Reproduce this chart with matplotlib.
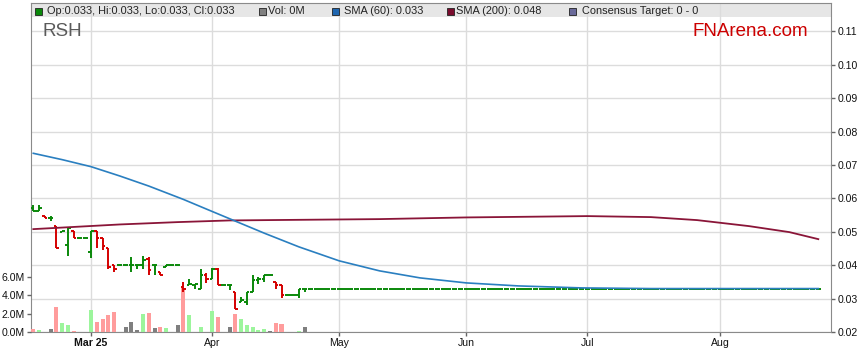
# RSH price chart, FNArena style: OHLC bars + volume + SMA(60) / SMA(200)
import numpy as np
import pandas as pd
import matplotlib
matplotlib.use('Agg')
import matplotlib.pyplot as plt
from matplotlib.patches import Rectangle

plt.rcParams['font.family'] = ['Liberation Sans', 'DejaVu Sans']

# daily bars from 17 Feb 2025 (weekdays), last traded bar 23 Apr
opens = [0.0570, 0.0562, 0.0548, 0.0540, 0.0518, 0.0498, 0.0460, 0.0502, 0.0480, 0.0480,
         0.0440, 0.0502, 0.0480, 0.0450, 0.0400, 0.0400, 0.0400, 0.0400, 0.0400, 0.0400,
         0.0420, 0.0400, 0.0380, 0.0395, 0.0400, 0.0400, 0.0335, 0.0340, 0.0340, 0.0330,
         0.0370, 0.0360, 0.0390, 0.0340, 0.0340, 0.0320, 0.0290, 0.0290, 0.0320, 0.0355,
         0.0360, 0.0370, 0.0350, 0.0340, 0.0310, 0.0310, 0.0310, 0.0330]
highs = [0.0580, 0.0580, 0.0548, 0.0548, 0.0518, 0.0502, 0.0510, 0.0502, 0.0480, 0.0480,
         0.0502, 0.0502, 0.0480, 0.0450, 0.0400, 0.0400, 0.0400, 0.0424, 0.0400, 0.0428,
         0.0425, 0.0400, 0.0380, 0.0400, 0.0400, 0.0400, 0.0350, 0.0360, 0.0345, 0.0390,
         0.0377, 0.0392, 0.0393, 0.0340, 0.0340, 0.0320, 0.0305, 0.0320, 0.0370, 0.0366,
         0.0370, 0.0370, 0.0350, 0.0340, 0.0310, 0.0310, 0.0330, 0.0330]
lows = [0.0562, 0.0562, 0.0540, 0.0532, 0.0451, 0.0498, 0.0428, 0.0480, 0.0480, 0.0480,
        0.0421, 0.0450, 0.0445, 0.0390, 0.0380, 0.0400, 0.0400, 0.0379, 0.0390, 0.0390,
        0.0370, 0.0370, 0.0370, 0.0395, 0.0400, 0.0400, 0.0320, 0.0340, 0.0330, 0.0330,
        0.0347, 0.0360, 0.0340, 0.0340, 0.0326, 0.0269, 0.0290, 0.0280, 0.0320, 0.0343,
        0.0350, 0.0370, 0.0330, 0.0303, 0.0310, 0.0310, 0.0303, 0.0320]
closes = [0.0562, 0.0570, 0.0540, 0.0540, 0.0451, 0.0502, 0.0510, 0.0480, 0.0480, 0.0480,
          0.0502, 0.0480, 0.0458, 0.0395, 0.0390, 0.0400, 0.0400, 0.0400, 0.0400, 0.0415,
          0.0385, 0.0400, 0.0370, 0.0400, 0.0400, 0.0400, 0.0330, 0.0345, 0.0345, 0.0370,
          0.0360, 0.0390, 0.0340, 0.0340, 0.0340, 0.0270, 0.0295, 0.0320, 0.0355, 0.0360,
          0.0370, 0.0370, 0.0340, 0.0310, 0.0310, 0.0310, 0.0330, 0.0330]
volumes_m = [0.33, 0.22, 0.0, 0.33, 2.7, 1.0, 0.76, 0.15, 0.0, 0.0,
             2.4, 1.1, 1.4, 1.85, 2.2, 0.0, 0.55, 1.1, 0.25, 1.95,
             2.1, 0.45, 0.55, 0.45, 0.0, 0.75, 4.8, 1.85, 0.0, 0.55,
             0.0, 2.3, 1.6, 0.0, 0.55, 2.0, 1.4, 0.75, 0.6, 0.25,
             0.3, 0.15, 1.0, 0.9, 0.0, 0.0, 0.1, 0.55]

# projected days after last trade: price held at last close, no volume
last_price = 0.033
n_projected = 89

# moving averages (bar index -> value)
sma60_idx = [0, 5, 10, 15, 20, 26, 30, 35, 40, 46, 53, 60, 67, 75, 84, 95, 107, 136]
sma60_val = [0.0735, 0.0716, 0.0695, 0.0667, 0.0637, 0.0597, 0.0568, 0.0532, 0.0496,
             0.0455, 0.0413, 0.0383, 0.0362, 0.0347, 0.0338, 0.0332, 0.0330, 0.0330]
sma200_idx = [0, 15, 25, 34, 60, 75, 96, 107, 115, 124, 131, 136]
sma200_val = [0.0508, 0.0522, 0.0529, 0.0534, 0.0538, 0.0543, 0.0547, 0.0544, 0.0535,
              0.0517, 0.0499, 0.0478]

month_labels = ['Mar 25', 'Apr', 'May', 'Jun', 'Jul', 'Aug']
month_nums = [3, 4, 5, 6, 7, 8]
price_ticks = [0.02, 0.03, 0.04, 0.05, 0.06, 0.07, 0.08, 0.09, 0.10, 0.11]
vol_ticks = [0, 2, 4, 6]

o = np.array(opens + [last_price] * n_projected)
h = np.array(highs + [last_price] * n_projected)
l = np.array(lows + [last_price] * n_projected)
c = np.array(closes + [last_price] * n_projected)
v = np.array(volumes_m)
dates = pd.bdate_range('2025-02-17', periods=len(o))
x = np.arange(len(o))

GREEN, RED = '#0a880a', '#d40000'
prev_c = np.concatenate([[c[0]], c[:-1]])
bar_col = np.where(c >= prev_c, GREEN, RED)
xv = np.arange(len(v))
cv = c[:len(v)]
ov = o[:len(v)]
vol_col = np.where(cv > ov, '#9cf59c', np.where(cv < ov, '#ff9c9c', '#7f7f7f'))

W, H = 859, 363
fig = plt.figure(figsize=(W / 100, H / 100), dpi=100)
rect = [31 / W, 31 / H, 800 / W, 329 / H]
xlim = (-0.4, 138.2)
ylim = (0.02, 0.1185)

# base axes: grid, legend band, price labels
ax = fig.add_axes(rect)
ax_v = ax.twinx()
ax_p = ax.twinx()

ax.set_xlim(xlim)
ax.set_ylim(ylim)
ax.set_axisbelow(True)
ax.grid(True, color='#dcdcdc', lw=1.0)
ax.set_yticks(price_ticks)
ax.set_yticklabels(['%.2f' % t for t in price_ticks])
ax.tick_params(axis='y', left=False, labelleft=False, right=True, labelright=True)
ticks_x = [int(np.argmax(dates.month == m)) for m in month_nums]
ax.set_xticks(ticks_x)
ax.set_xticklabels(month_labels)
ax.get_xticklabels()[0].set_fontweight('bold')
ax.tick_params(axis='both', labelsize=7.6, colors='#666666', labelcolor='#111111',
               length=3, width=1, pad=1.5)
for s in ax.spines.values():
    s.set_color('#8a8a8a')
ax.add_patch(Rectangle((0, (332 - 16.7) / 329), 1, 1, transform=ax.transAxes,
                       facecolor='#e6e6e6', edgecolor='none', zorder=0))

# volume
ax_v.set_ylim(0, 35.9)
ax_v.set_xlim(xlim)
ax_v.bar(xv, v, width=0.7, color=vol_col, linewidth=0)
ax_v.set_yticks(vol_ticks)
ax_v.set_yticklabels(['%.1fM' % t for t in vol_ticks])
ax_v.tick_params(axis='y', left=True, labelleft=True, right=False, labelright=False,
                 labelsize=7.6, colors='#666666', labelcolor='#111111',
                 length=3, width=1, pad=1.5)
for s in ax_v.spines.values():
    s.set_visible(False)

# price bars and moving averages on top
ax_p.set_xlim(xlim)
ax_p.set_ylim(ylim)
ax_p.set_axis_off()
ax_p.vlines(x, l, h, colors=bar_col, lw=1.4)
ax_p.hlines(o, x - 0.45, x, colors=bar_col, lw=1.4)
ax_p.hlines(c, x, x + 0.45, colors=bar_col, lw=1.4)
ax_p.plot(sma200_idx, sma200_val, color='#8a1538', lw=1.3)
ax_p.plot(sma60_idx, sma60_val, color='#2a7fc0', lw=1.2)

# legend strip
items = [(35, GREEN, 47, 'Op:0.033, Hi:0.033, Lo:0.033, Cl:0.033'),
         (259, '#808080', 268.5, 'Vol: 0M'),
         (332, '#1f66b0', 344.5, 'SMA (60): 0.033'),
         (447, '#7a0c2e', 456, 'SMA (200): 0.048'),
         (569, '#6a6a9a', 582.5, 'Consensus Target: 0 - 0')]
for sx, col, tx, label in items:
    fig.add_artist(Rectangle((sx / W, 1 - 14.5 / H), 7 / W, 7 / H, transform=fig.transFigure,
                             facecolor=col, edgecolor='#222222', lw=0.6))
    fig.text(tx / W, 1 - 11 / H, label, fontsize=7.9, color='#222222', va='center')

fig.text(42 / W, 1 - 31 / H, 'RSH', fontsize=13.5, color='#5a5a5a', va='center')
fig.text(808 / W, 1 - 32 / H, 'FNArena.com', fontsize=13.5, color='#cc0000',
         va='center', ha='right')

fig.savefig('out.png', dpi=100)
